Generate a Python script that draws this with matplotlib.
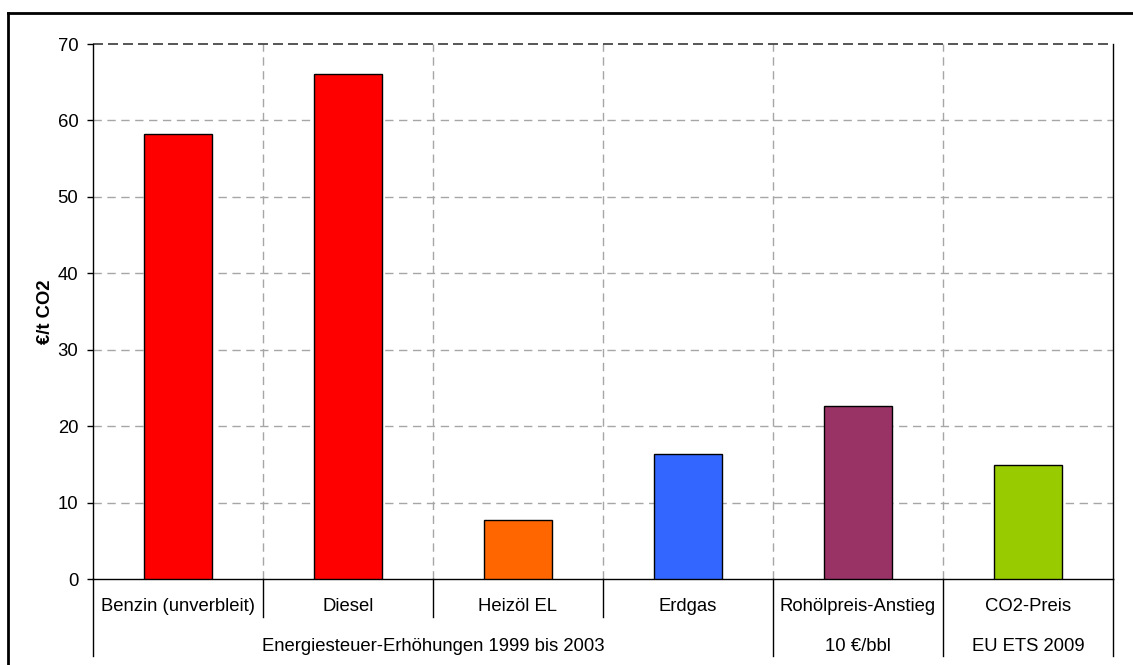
import matplotlib.pyplot as plt
from matplotlib.lines import Line2D
import matplotlib.transforms as mtransforms

plt.rcParams['font.family'] = ['Liberation Sans', 'DejaVu Sans']

# data
categories = ["Benzin (unverbleit)", "Diesel", "Heizöl EL", "Erdgas",
              "Rohölpreis-Anstieg", "CO2-Preis"]
values = [58.2, 66.1, 7.7, 16.4, 22.6, 14.9]
colors = ['#FF0000', '#FF0000', '#FF6600', '#3366FF', '#993366', '#99CC00']
# second label row: (text, first category index, last category index)
groups = [("Energiesteuer-Erhöhungen 1999 bis 2003", 0, 3),
          ("10 €/bbl", 4, 4),
          ("EU ETS 2009", 5, 5)]

FS = 13.3

fig = plt.figure(figsize=(11.33, 6.65), dpi=100)
ax = fig.add_axes([0.0821, 0.1293, 0.9002, 0.8045])

x = list(range(len(categories)))
ax.bar(x, values, width=0.4, color=colors, edgecolor='black', linewidth=1, zorder=3)

ax.set_xlim(-0.5, len(categories) - 0.5)
ax.set_ylim(0, 70)
ax.set_yticks(range(0, 71, 10))
ax.tick_params(axis='y', direction='out', length=4.5, width=1, labelsize=FS, pad=6)
ax.set_xticks([])

# dashed grid
grid_kw = dict(color='#a6a6a6', linestyle=(0, (6, 4)), linewidth=1, zorder=1)
for yv in range(10, 70, 10):
    ax.axhline(yv, **grid_kw)
for b in range(len(categories) - 1):
    ax.axvline(b + 0.5, **grid_kw)
# top line looks like a dark dashed line in the original
ax.axhline(70, color='#3a3a3a', linestyle=(0, (6, 3)), linewidth=1.2, zorder=2, clip_on=False)

ax.spines['top'].set_visible(False)
for s in ['left', 'bottom', 'right']:
    ax.spines[s].set_color('black')
    ax.spines[s].set_linewidth(1)

ax.set_ylabel('€/t CO2', fontsize=FS, fontweight='bold', labelpad=3)

# multi-level category axis
trans = mtransforms.blended_transform_factory(ax.transData, ax.transAxes)
short_y = -0.071
long_y = -0.144
for i, c in enumerate(categories):
    ax.text(i, -0.052, c, transform=trans, ha='center', va='center', fontsize=FS)

group_edges = set()
for name, a, b in groups:
    ax.text((a + b) / 2, -0.127, name, transform=trans, ha='center', va='center', fontsize=FS)
    group_edges.add(a - 0.5)
    group_edges.add(b + 0.5)

for k in range(len(categories) + 1):
    xb = k - 0.5
    y0 = long_y if xb in group_edges else short_y
    ax.add_line(Line2D([xb, xb], [0, y0], transform=trans, color='black',
                       linewidth=1, clip_on=False))

# outer chart frame (only top and left visible in the crop)
fig.add_artist(Line2D([8 / 1133, 1.0], [1 - 13 / 665, 1 - 13 / 665],
                      transform=fig.transFigure, color='black', linewidth=2))
fig.add_artist(Line2D([8 / 1133, 8 / 1133], [0, 1 - 13 / 665],
                      transform=fig.transFigure, color='black', linewidth=2))

fig.savefig('out.png', dpi=100)
